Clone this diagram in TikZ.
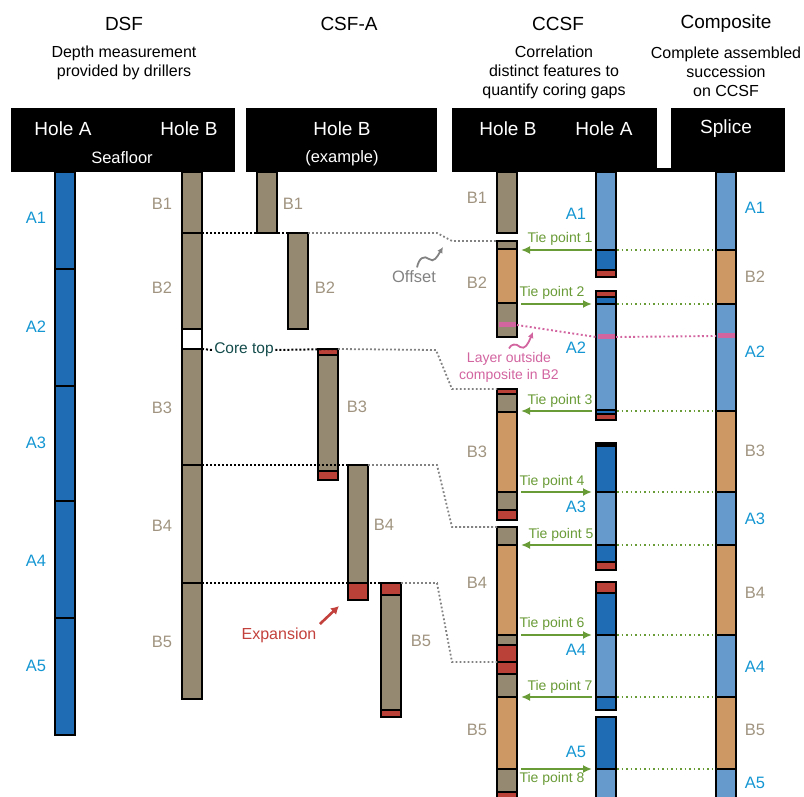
\documentclass[tikz,border=0pt]{standalone}
\usepackage{fontspec}
\setmainfont{Liberation Sans}
\usetikzlibrary{arrows.meta}
\definecolor{cgrey}{RGB}{150,137,113}
\definecolor{corange}{RGB}{205,152,100}
\definecolor{cdblue}{RGB}{32,108,180}
\definecolor{clblue}{RGB}{102,153,204}
\definecolor{cred}{RGB}{185,65,55}
\definecolor{cpink}{RGB}{210,100,160}
\definecolor{lblue}{RGB}{20,150,210}
\definecolor{lbrown}{RGB}{160,148,128}
\definecolor{tgreen}{RGB}{105,155,55}
\definecolor{dgrey}{RGB}{130,130,130}
\definecolor{ctop}{RGB}{20,75,75}
\definecolor{expred}{RGB}{195,65,60}
\newcommand\mkcore[6]{%
  \foreach \sc/\sa/\sb in {#5}{\filldraw[seg, fill=\sc] (#2,\sa) rectangle (#2+20,\sb);}
  #6
  \node[core, minimum height={#4-#3}] (#1) at (#2,#3) {};
}
\begin{document}
\begin{tikzpicture}[x=1pt,y=-1pt,
  title/.style={font=\fontsize{19}{22}\selectfont},
  sub/.style={font=\fontsize{16}{19}\selectfont, align=center},
  hdr/.style={text=white, font=\fontsize{19}{22}\selectfont},
  hdrs/.style={text=white, font=\fontsize{16.5}{19}\selectfont},
  hbox/.style={fill=black, draw=none, inner sep=0pt, outer sep=0pt, anchor=north west, minimum height=64},
  alab/.style={text=lblue, font=\fontsize{16.5}{18}\selectfont},
  blab/.style={text=lbrown, font=\fontsize{16.5}{18}\selectfont},
  tplab/.style={text=tgreen, font=\fontsize{14}{16}\selectfont, inner sep=0pt},
  core/.style={draw=black, line width=2.8pt, inner sep=0pt, outer sep=0pt, minimum width=20, anchor=north west},
  seg/.style={draw=black, line width=2.3pt},
  blackdot/.style={draw=black, line width=2pt, dash pattern=on 2pt off 2pt},
  greydot/.style={draw=dgrey, line width=1.8pt, dash pattern=on 1.8pt off 2.2pt},
  pinkdot/.style={draw=cpink, line width=1.9pt, dash pattern=on 1.9pt off 2.4pt},
  tiearr/.style={draw=tgreen, line width=2pt, -{Latex[length=9pt,width=8pt]}},
  tiedot/.style={draw=tgreen, line width=1.9pt, dash pattern=on 1.9pt off 2.6pt}]
\useasboundingbox (0,0) rectangle (804,797);
\clip (0,0) rectangle (804,797);

% titles
\node[title] (tDSF) at (124,24) {DSF};
\node[sub] (sDSF) at (124,63) {Depth measurement\\provided by drillers};
\node[title] (tCSF) at (349,24) {CSF-A};
\node[title] (tCCSF) at (558,24) {CCSF};
\node[sub] (sCCSF) at (554,72) {Correlation\\distinct features to\\quantify coring gaps};
\node[title] (tComp) at (726,24) {Composite};
\node[sub] (sComp) at (726,72) {Complete assembled\\succession\\on CCSF};

% header boxes
\node[hbox, minimum width=224] (hb1) at (11,108) {};
\node[hbox, minimum width=191] (hb2) at (246,108) {};
\node[hbox, minimum width=205] (hb3) at (452,108) {};
\node[hbox, minimum width=114] (hb4) at (671,108) {};
\fill[black] (656,168) rectangle (672,172);
\node[hdr] (h1) at (63,129) {Hole A};
\node[hdr] (h2) at (189,129) {Hole B};
\node[hdrs] (h3) at (122,158) {Seafloor};
\node[hdr] (h4) at (342,129) {Hole B};
\node[hdrs] (h5) at (342,158) {(example)};
\node[hdr] (h6) at (508,129) {Hole B};
\node[hdr] (h7) at (604,129) {Hole A};
\node[hdr] (h8) at (726,129) {Splice};

% DSF hole A
\mkcore{dA1}{55}{172}{269}{cdblue/172/269}{}
\mkcore{dA2}{55}{269}{386}{cdblue/269/386}{}
\mkcore{dA3}{55}{386}{501}{cdblue/386/501}{}
\mkcore{dA4}{55}{501}{618}{cdblue/501/618}{}
\mkcore{dA5}{55}{618}{735}{cdblue/618/735}{}
% DSF hole B
\mkcore{dB1}{182}{172}{233}{cgrey/172/233}{}
\mkcore{dB2}{182}{233}{349}{cgrey/233/329, white/329/349}{}
\mkcore{dB3}{182}{349}{465}{cgrey/349/465}{}
\mkcore{dB4}{182}{465}{583}{cgrey/465/583}{}
\mkcore{dB5}{182}{583}{699}{cgrey/583/699}{}
% CSF-A
\mkcore{cB1}{257}{172}{233}{cgrey/172/233}{}
\mkcore{cB2}{288}{233}{329}{cgrey/233/329}{}
\mkcore{cB3}{318}{349}{480}{cred/349/355, cgrey/355/471, cred/471/480}{}
\mkcore{cB4}{348}{465}{600}{cgrey/465/583, cred/583/600}{}
\mkcore{cB5}{381}{583}{717}{cred/583/595, cgrey/595/710, cred/710/717}{}
% CCSF hole B
\mkcore{ccB1}{497}{172}{233}{cgrey/172/233}{}
\mkcore{ccB2}{497}{241}{337}{cgrey/241/249, corange/249/303, cgrey/303/337}{\fill[cpink] (498.5,322) rectangle (515.5,327);}
\mkcore{ccB3}{497}{389}{520}{cred/389/394, cgrey/394/412, corange/412/492, cgrey/492/510, cred/510/520}{}
\mkcore{ccB4}{497}{527}{662}{cgrey/527/545, corange/545/635, cgrey/635/645, cred/645/662}{}
\mkcore{ccB5}{497}{662}{805}{cred/662/674, cgrey/674/697, corange/697/769, cgrey/769/792, cred/792/805}{}
% CCSF hole A
\mkcore{ccA1}{596}{172}{277}{clblue/172/250, cdblue/250/270, cred/270/277}{}
\mkcore{ccA2}{596}{291}{420}{cred/291/297, cdblue/297/304, clblue/304/410, cdblue/410/414, cred/414/420}{\fill[cpink] (597.5,334) rectangle (614.5,339);}
\mkcore{ccA3}{596}{443}{570}{cdblue/443/492, clblue/492/545, cdblue/545/562, cred/562/570}{\fill[black] (596,443) rectangle (616,447);}
\mkcore{ccA4}{596}{582}{710}{cred/582/593, cdblue/593/635, clblue/635/697, cdblue/697/710}{}
\mkcore{ccA5}{596}{717}{805}{cdblue/717/769, clblue/769/805}{}
% splice
\mkcore{sA1}{716}{172}{250}{clblue/172/250}{}
\mkcore{sB2}{716}{250}{304}{corange/250/304}{}
\mkcore{sA2}{716}{304}{411}{clblue/304/411}{\fill[cpink] (717.5,333) rectangle (734.5,338);}
\mkcore{sB3}{716}{411}{492}{corange/411/492}{}
\mkcore{sA3}{716}{492}{545}{clblue/492/545}{}
\mkcore{sB4}{716}{545}{635}{corange/545/635}{}
\mkcore{sA4}{716}{635}{697}{clblue/635/697}{}
\mkcore{sB5}{716}{697}{769}{corange/697/769}{}
\mkcore{sA5}{716}{769}{805}{clblue/769/805}{}

% labels DSF
\node[alab] (lA1) at (36,218) {A1};
\node[alab] (lA2) at (36,327) {A2};
\node[alab] (lA3) at (36,443) {A3};
\node[alab] (lA4) at (36,561) {A4};
\node[alab] (lA5) at (36,666) {A5};
\node[blab] (lB1) at (162,204) {B1};
\node[blab] (lB2) at (162,288) {B2};
\node[blab] (lB3) at (162,408) {B3};
\node[blab] (lB4) at (162,526) {B4};
\node[blab] (lB5) at (162,642) {B5};
% labels CSF
\node[blab] (mB1) at (293,204) {B1};
\node[blab] (mB2) at (325,288) {B2};
\node[blab] (mB3) at (357,407) {B3};
\node[blab] (mB4) at (384,525) {B4};
\node[blab] (mB5) at (421,641) {B5};
% labels CCSF
\node[blab] (nB1) at (477,198) {B1};
\node[blab] (nB2) at (477,283) {B2};
\node[blab] (nB3) at (477,452) {B3};
\node[blab] (nB4) at (477,583) {B4};
\node[blab] (nB5) at (477,730) {B5};
\node[alab] (nA1) at (576,214) {A1};
\node[alab] (nA2) at (576,348) {A2};
\node[alab] (nA3) at (576,507) {A3};
\node[alab] (nA4) at (576,650) {A4};
\node[alab] (nA5) at (576,752) {A5};
% labels splice
\node[alab] (pA1) at (755,208) {A1};
\node[blab] (pB2) at (755,277) {B2};
\node[alab] (pA2) at (755,352) {A2};
\node[blab] (pB3) at (755,451) {B3};
\node[alab] (pA3) at (755,519) {A3};
\node[blab] (pB4) at (755,593) {B4};
\node[alab] (pA4) at (755,667) {A4};
\node[blab] (pB5) at (755,730) {B5};
\node[alab] (pA5) at (755,783) {A5};

% core top label
\node[text=ctop, font=\fontsize{15.5}{18}\selectfont, inner sep=1.5pt] (coretop) at (244,350) {Core top};

% dotted correlation lines
\draw[blackdot] (dB2.north east) -- (cB2.north east);
\draw[blackdot] (dB3.north east) -- (coretop.west);
\draw[blackdot] (coretop.east) -- (cB3.north east);
\draw[blackdot] (dB4.north east) -- (cB4.north east);
\draw[blackdot] (dB5.north east) -- (cB5.north east);
\draw[greydot] (cB2.north east) -- (437,233) -- (452,241) -- (ccB2.north west);
\draw[greydot] (cB3.north east) -- (436,350) -- (452,389) -- (ccB3.north west);
\draw[greydot] (cB4.north east) -- (437,465) -- (452,527) -- (ccB4.north west);
\draw[greydot] (cB5.north east) -- (437,583) -- (452,662) -- (ccB5.north west);

% offset
\node[text=dgrey, font=\fontsize{16.5}{19}\selectfont] (offset) at (414,277) {Offset};
\coordinate (offtip) at (443,247);
\draw[dgrey, line width=1.8pt, -{Latex[length=6pt,width=6pt]}] (offset.north) ++(3,0) .. controls (419,258) and (424,255) .. (429,259) .. controls (434,263) and (437,257) .. (offtip);

% expansion
\node[text=expred, font=\fontsize{16}{19}\selectfont] (expansion) at (279,635) {Expansion};
\coordinate (exptip) at (339,606);
\draw[expred, line width=2.6pt, -{Latex[length=8pt,width=9pt]}] (expansion.north east) -- (exptip);

% pink layer
\coordinate (pkB) at (517,325);
\coordinate (pkA) at (596,337);
\coordinate (pkA2) at (616,337);
\coordinate (pkS) at (716,336);
\draw[pinkdot] (pkB) -- (pkA);
\draw[pinkdot] (pkA2) -- (pkS);
\node[text=cpink, font=\fontsize{14}{17}\selectfont, align=center] (layer) at (509,367) {Layer outside\\composite in B2};
\coordinate (laytip) at (533,332);
\draw[cpink, line width=1.8pt, -{Latex[length=6pt,width=6pt]}] (layer.north) .. controls (511,344) and (516,343) .. (520,347) .. controls (525,350) and (528,344) .. (laytip);

% tie points
\coordinate (tA1) at (592,250); \coordinate (tB1) at (521,250); \coordinate (tS1) at (716,250); \coordinate (tR1) at (617,250);
\coordinate (tA2) at (592,304); \coordinate (tB2) at (521,304); \coordinate (tS2) at (716,304); \coordinate (tR2) at (617,304);
\coordinate (tA3) at (592,411); \coordinate (tB3) at (521,411); \coordinate (tS3) at (716,411); \coordinate (tR3) at (617,411);
\coordinate (tA4) at (592,492); \coordinate (tB4) at (521,492); \coordinate (tS4) at (716,492); \coordinate (tR4) at (617,492);
\coordinate (tA5) at (592,545); \coordinate (tB5) at (521,545); \coordinate (tS5) at (716,545); \coordinate (tR5) at (617,545);
\coordinate (tA6) at (592,635); \coordinate (tB6) at (521,635); \coordinate (tS6) at (716,635); \coordinate (tR6) at (617,635);
\coordinate (tA7) at (592,697); \coordinate (tB7) at (521,697); \coordinate (tS7) at (716,697); \coordinate (tR7) at (617,697);
\coordinate (tA8) at (592,769); \coordinate (tB8) at (521,769); \coordinate (tS8) at (716,769); \coordinate (tR8) at (617,769);
\draw[tiearr] (tA1) -- (tB1);
\draw[tiearr] (tB2) -- (tA2);
\draw[tiearr] (tA3) -- (tB3);
\draw[tiearr] (tB4) -- (tA4);
\draw[tiearr] (tA5) -- (tB5);
\draw[tiearr] (tB6) -- (tA6);
\draw[tiearr] (tA7) -- (tB7);
\draw[tiearr] (tB8) -- (tA8);
\foreach \i in {1,...,8}{\draw[tiedot] (tR\i) -- (tS\i);}
\node[tplab] (tp1) at (560,239) {Tie point 1};
\node[tplab] (tp2) at (552,293) {Tie point 2};
\node[tplab] (tp3) at (560,401) {Tie point 3};
\node[tplab] (tp4) at (552,482) {Tie point 4};
\node[tplab] (tp5) at (561,535) {Tie point 5};
\node[tplab] (tp6) at (552,624) {Tie point 6};
\node[tplab] (tp7) at (560,687) {Tie point 7};
\node[tplab] (tp8) at (552,779) {Tie point 8};
\end{tikzpicture}
\end{document}
